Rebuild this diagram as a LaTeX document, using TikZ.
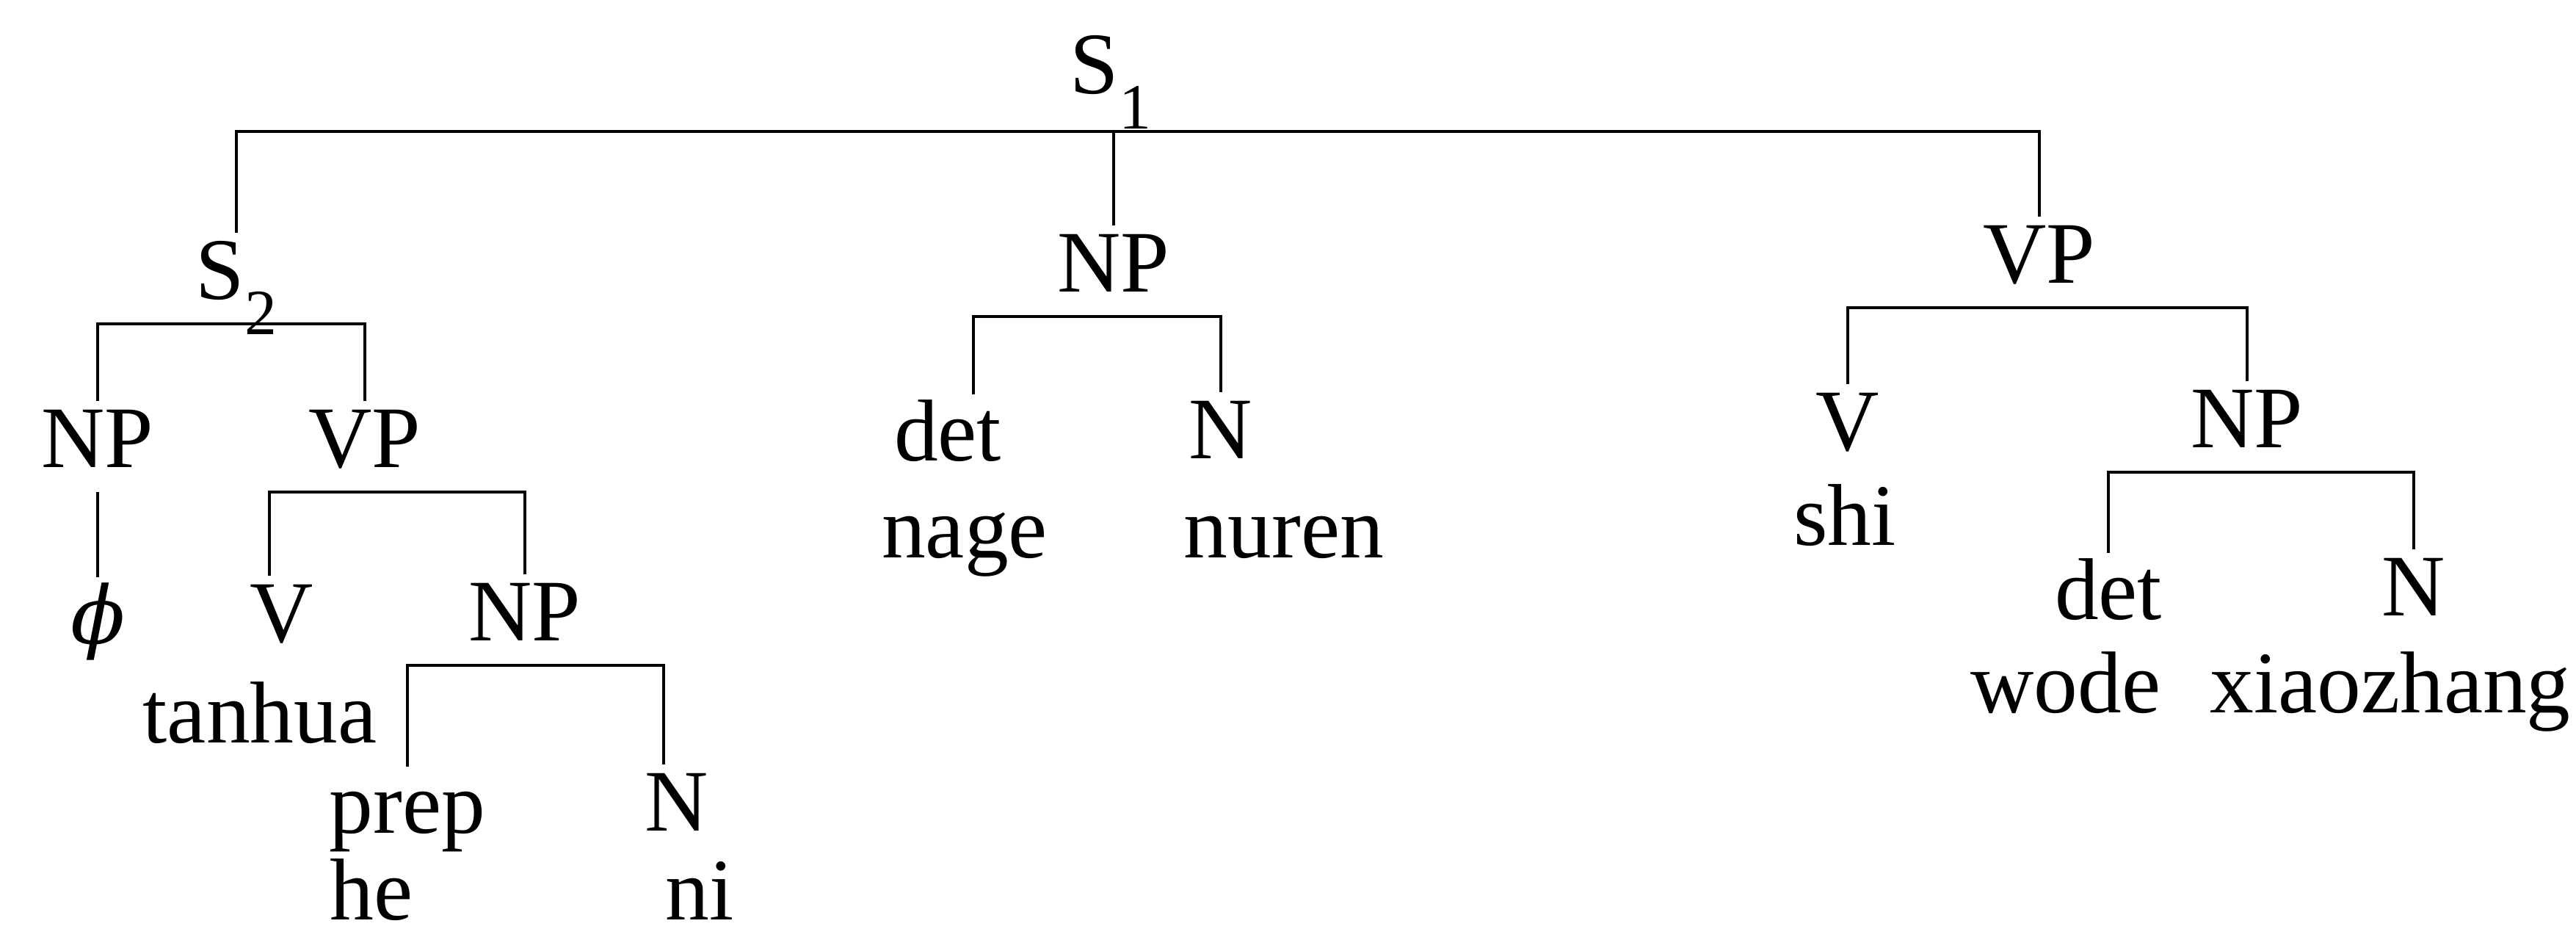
\documentclass[tikz,border=0pt]{standalone}
\usepackage{fontspec}
\setmainfont{Liberation Serif}
\newfontfamily\phifont{DejaVu Serif}
\usepackage{tikz}
\usetikzlibrary{calc}
\newcommand{\subnum}[1]{\raisebox{-0.48cm}{\fontsize{25}{25}\selectfont #1}}
\tikzset{
  lbl/.style={font=\fontsize{34}{40}\selectfont, anchor=base, inner sep=1mm,
              text height=8mm, text depth=2.2mm},
  branch/.style={draw=black, line width=1.1pt}
}

\begin{document}
\begin{tikzpicture}[x=1cm, y=1cm]
\useasboundingbox (0,0) rectangle (35.09,12.80);

% top
\node[lbl, text depth=4mm] (s1) at (15.13,11.52) {S\subnum{1}};

% ---- left clause ----
\node[lbl] (s2)  at (3.22,8.72) {S\subnum{2}};
\node[lbl] (np1) at (1.33,6.43) {NP};
\node[lbl] (vp1) at (4.97,6.43) {VP};
\node[lbl] (phi) at (1.34,4.03) {\phifont\itshape\fontsize{31}{36}\selectfont ϕ};
\node[lbl] (v1)  at (3.84,4.05) {V};
\node[lbl] (np2) at (7.15,4.07) {NP};
\node[lbl] (tanhua) at (3.54,2.68) {tanhua};
\node[lbl] (prep) at (5.55,1.45) {prep};
\node[lbl] (n1)  at (9.22,1.48) {N};
\node[lbl, text depth=0mm, inner sep=0.5mm] (he) at (5.06,0.27) {he};
\node[lbl, text depth=0mm, inner sep=0.5mm] (ni) at (9.53,0.27) {ni};

% ---- middle NP ----
\node[lbl] (np3) at (15.17,8.82) {NP};
\node[lbl] (det1) at (12.91,6.52) {det};
\node[lbl] (n2)  at (16.63,6.55) {N};
\node[lbl] (nage) at (13.14,5.20) {nage};
\node[lbl] (nuren) at (17.49,5.20) {nuren};

% ---- right VP ----
\node[lbl] (vp3) at (27.78,8.94) {VP};
\node[lbl] (v2)  at (25.17,6.66) {V};
\node[lbl] (np4) at (30.61,6.70) {NP};
\node[lbl] (shi) at (25.13,5.37) {shi};
\node[lbl] (det2) at (28.72,4.36) {det};
\node[lbl] (n3)  at (32.88,4.41) {N};
\node[lbl] (wode) at (28.14,3.09) {wode};
\node[lbl] (xiaozhang) at (32.56,3.09) {xiaozhang};

% branches
\draw[branch] (s2.north) |- (s1.south) -| (vp3.north);
\draw[branch] (np3.north) -- (np3.north |- s1.south);
\draw[branch] (np1.north) |- (s2.south) -| (vp1.north);
\draw[branch] (np1.south) -- (np1.south |- phi.north);
\draw[branch] ([xshift=-1.7mm]v1.north) |- (vp1.south) -| (np2.north);
\draw[branch] (prep.north) |- (np2.south) -| ([xshift=-1.8mm]n1.north);
\draw[branch] ([xshift=3.5mm]det1.north) |- (np3.south) -| (n2.north);
\draw[branch] (v2.north) |- (vp3.south) -| (np4.north);
\draw[branch] (det2.north) |- (np4.south) -| (n3.north);
\end{tikzpicture}
\end{document}
